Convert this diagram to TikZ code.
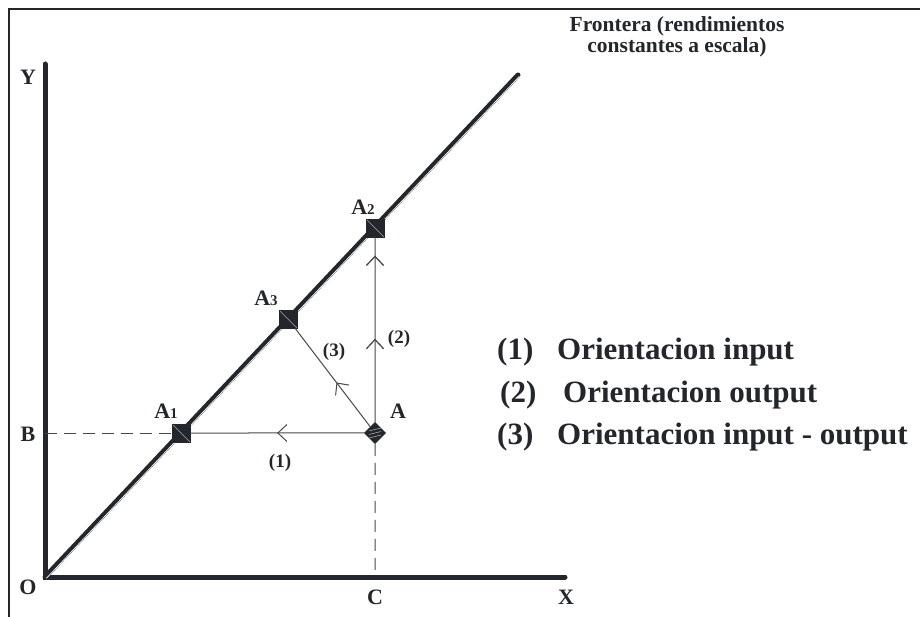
\documentclass[tikz,border=0pt]{standalone}
\usepackage{fontspec}
\setmainfont{Liberation Serif}
\usetikzlibrary{arrows.meta,decorations.markings}
\definecolor{ink}{HTML}{23272B}
\definecolor{guidecol}{HTML}{45484B}
\tikzset{
  axis/.style={line width=5pt, ink, line cap=round},
  guide/.style={line width=1pt, guidecol},
  dashguide/.style={guide, dash pattern=on 12pt off 7pt},
  chev/.style={postaction={decorate}, decoration={markings,
      mark=at position #1 with {\arrow{Straight Barb[length=9pt,width=17pt,line width=1pt]}}}},
  sqmark/.style={rectangle, fill=ink, draw=ink, minimum size=18pt, inner sep=0pt,
      path picture={\draw[gray!70, line width=0.5pt] (path picture bounding box.north west) -- (path picture bounding box.south east);}},
  diamark/.style={rectangle, rotate=45, fill=ink, draw=ink, minimum size=15pt, inner sep=0pt},
  lbl/.style={font=\bfseries\fontsize{22}{26}\selectfont, ink, inner sep=0pt},
  num/.style={font=\bfseries\fontsize{19}{22}\selectfont, ink, inner sep=0pt},
  leg/.style={font=\bfseries\fontsize{31}{36}\selectfont, ink, inner sep=0pt, anchor=west},
  ttl/.style={font=\bfseries\fontsize{21.5}{21}\selectfont, ink, inner sep=0pt, align=center},
}
\newcommand{\Asub}[1]{A{\fontsize{15}{17}\selectfont #1}}
\begin{document}
\begin{tikzpicture}[x=1pt, y=-1pt]
\useasboundingbox (0,0) rectangle (920,617);
% frame
\coordinate (F0) at (9,617);
\coordinate (F1) at (9,9);
\coordinate (F2) at (920,9);
\draw[line width=1.5pt, ink] (F0) -- (F1) -- (F2);
% axes
\coordinate (O) at (45,577);
\coordinate (Ytop) at (45,64);
\coordinate (Xend) at (565,577);
\coordinate (Fend) at (518,75);
\draw[axis] (Ytop) -- (O) -- (Xend);
\draw[axis] (O) -- (Fend);
\draw[white, line width=0.7pt] ([shift={(1.4,1.3)}]O) -- ([shift={(1.4,1.3)}]Fend);
% points
\coordinate (Bp) at (45,433);
\coordinate (Cp) at (375,577);
\node[sqmark] (A1) at (181,433) {};
\node[sqmark] (A3) at (288,319) {};
\node[sqmark] (A2) at (375,228) {};
\node[diamark] (A) at (375,433) {};
\foreach \d in {-3.5,0,3.5}
  \draw[gray!60, line width=0.5pt] ([shift={(-6,\d+1.5)}]A.center) -- ([shift={(6,\d-1.5)}]A.center);
% guides
\draw[dashguide] (Bp) -- (A1);
\draw[dashguide] (A) -- (Cp);
\draw[guide, chev=0.5] (A) -- (A1);
\draw[guide, chev=0.45, chev=0.9] (A) -- (A2);
\draw[guide, chev=0.45] (A) -- (A3);
% labels
\node[lbl] at (28,77) {Y};
\node[lbl] at (28,434) {B};
\node[lbl] at (28,587) {O};
\node[lbl] at (375,597) {C};
\node[lbl] at (566,597) {X};
\node[lbl] at (398,411) {A};
\node[lbl] at (166,411) {\Asub{1}};
\node[lbl] at (266,298) {\Asub{3}};
\node[lbl] at (363,207) {\Asub{2}};
\node[num] at (280,463) {(1)};
\node[num] at (399,339) {(2)};
\node[num] at (334,352) {(3)};
% title
\node[ttl] at (677,37) {Frontera (rendimientos\\constantes a escala)};
% legend
\node[leg] at (497,352) {(1)};
\node[leg] at (557,352) {Orientacion input};
\node[leg] at (500,395) {(2)};
\node[leg] at (563,395) {Orientacion output};
\node[leg] at (497,437) {(3)};
\node[leg] at (557,437) {Orientacion input - output};
\end{tikzpicture}
\end{document}
